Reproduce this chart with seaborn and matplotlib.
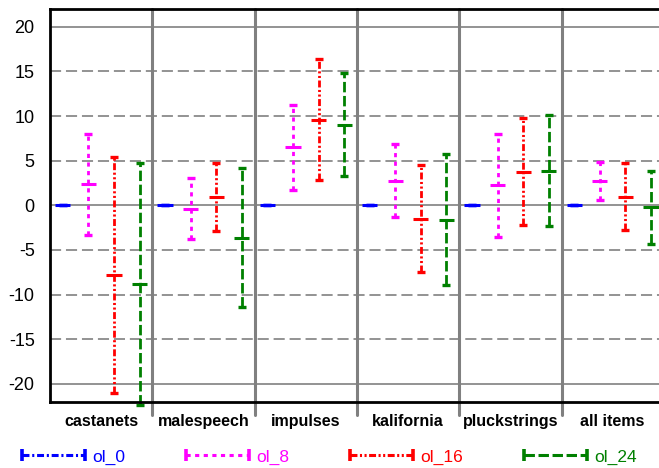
import numpy as np
import pandas as pd
import matplotlib
matplotlib.use("Agg")
import matplotlib.pyplot as plt
import seaborn as sns
from matplotlib.lines import Line2D
from matplotlib.legend_handler import HandlerLine2D

categories = ["castanets", "malespeech", "impulses", "kalifornia", "pluckstrings", "all items"]
series = ["ol_0", "ol_8", "ol_16", "ol_24"]

mean_ol_0 = [0, 0, 0, 0, 0, 0]
low_ol_0 = [0, 0, 0, 0, 0, 0]
high_ol_0 = [0, 0, 0, 0, 0, 0]

mean_ol_8 = [2.4, -0.37, 6.5, 2.77, 2.24, 2.73]
low_ol_8 = [-3.3, -3.73, 1.76, -1.34, -3.51, 0.56]
high_ol_8 = [8.0, 3.07, 11.25, 6.88, 8.0, 4.87]

mean_ol_16 = [-7.85, 0.9, 9.6, -1.49, 3.78, 0.98]
low_ol_16 = [-21.0, -2.9, 2.88, -7.47, -2.2, -2.76]
high_ol_16 = [5.46, 4.75, 16.4, 4.56, 9.8, 4.79]

mean_ol_24 = [-8.8, -3.62, 9.0, -1.6, 3.89, -0.22]
low_ol_24 = [-22.4, -11.36, 3.25, -8.89, -2.31, -4.33]
high_ol_24 = [4.79, 4.15, 14.88, 5.76, 10.13, 3.89]

y_ticks = [-20, -15, -10, -5, 0, 5, 10, 15, 20]

means = [mean_ol_0, mean_ol_8, mean_ol_16, mean_ol_24]
lows = [low_ol_0, low_ol_8, low_ol_16, low_ol_24]
highs = [high_ol_0, high_ol_8, high_ol_16, high_ol_24]

offsets = [-0.375, -0.125, 0.125, 0.375]
rows = []
for k, s in enumerate(series):
    for i, c in enumerate(categories):
        rows.append(dict(category=c, series=s, x=i + offsets[k],
                         mean=means[k][i], low=lows[k][i], high=highs[k][i]))
df = pd.DataFrame(rows)

colors = {"ol_0": "#0000ff", "ol_8": "#ff00ff", "ol_16": "#ff0000", "ol_24": "#008000"}
dashes = {"ol_0": (0, (5, 2, 1.5, 2)),
          "ol_8": (0, (3, 3.2)),
          "ol_16": (0, (5, 1.8, 1.5, 1.8, 1.5, 1.8)),
          "ol_24": (0, (7.5, 2.6))}

sns.set_theme(style="white")
plt.rcParams['font.family'] = ['Liberation Sans', 'DejaVu Sans']
plt.rcParams['lines.scale_dashes'] = False

fig = plt.figure(figsize=(6.59, 4.68), dpi=100)
ax = fig.add_axes([50 / 659, 1 - 401.7 / 468, 609 / 659, (401.7 - 9) / 468])
ax.set_xlim(-0.5, -0.5 + 609 / 102.3)
ax.set_ylim(-22, 22)

grid_c = "#8a8a8a"
for v in y_ticks:
    if v in (-20, 0, 20):
        ax.axhline(v, color=grid_c, lw=1.3, zorder=1)
    else:
        ax.axhline(v, color=grid_c, lw=1.3, ls=(0, (8, 3.5)), zorder=1)
for i in range(1, len(categories)):
    ax.axvline(i - 0.5, ymin=-0.035, ymax=1, color="#808080", lw=2.2,
               clip_on=False, zorder=1.5)

for s in series:
    d = df[df.series == s]
    eb = ax.errorbar(d["x"], d["mean"],
                     yerr=[d["mean"] - d["low"], d["high"] - d["mean"]],
                     fmt="none", ecolor=colors[s], elinewidth=2.0,
                     capsize=3.2, capthick=2.4, zorder=3)
    eb[2][0].set_linestyle(dashes[s])
    for a in eb.get_children():
        a.set_clip_on(False)

sns.scatterplot(data=df, x="x", y="mean", hue="series", palette=colors,
                marker="_", s=120, linewidth=2.2, legend=False, ax=ax,
                zorder=4, clip_on=False)

for side in ["left", "top", "bottom"]:
    ax.spines[side].set_color("black")
    ax.spines[side].set_linewidth(2.0)
    ax.spines[side].set_zorder(5)
ax.spines["right"].set_visible(False)

ax.set_yticks(y_ticks)
ax.set_yticklabels([str(t) for t in y_ticks], fontsize=13)
ax.set_xticks(range(len(categories)))
ax.set_xticklabels(categories, fontsize=11.5, fontweight="bold")
ax.tick_params(axis="both", length=0, colors="black")
ax.tick_params(axis="y", pad=11)
ax.tick_params(axis="x", pad=8.5)
ax.set_xlabel("")
ax.set_ylabel("")

handles = [Line2D([], [], color=colors[s], lw=2.2, ls=dashes[s], marker="|",
                  markersize=9, mew=2.6) for s in series]
fig.legend(handles, series, loc="center", bbox_to_anchor=(0.5, 1 - 457 / 468),
           ncol=4, frameon=False, numpoints=2, handlelength=3.6,
           handletextpad=0.45, columnspacing=3.5, fontsize=12.5,
           labelcolor="linecolor",
           handler_map={Line2D: HandlerLine2D(marker_pad=0)})

fig.savefig("out.png", dpi=100)
